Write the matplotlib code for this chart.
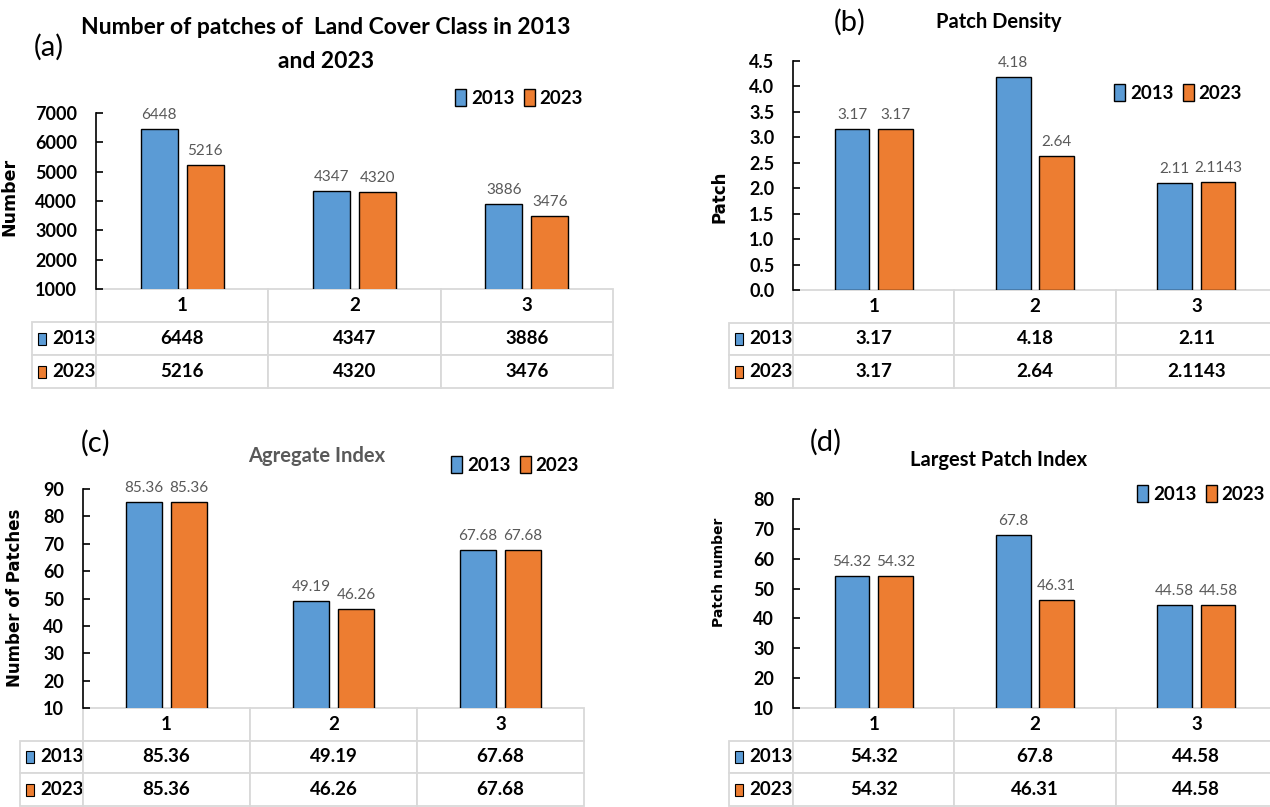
import numpy as np
import matplotlib
matplotlib.use('Agg')
import matplotlib.pyplot as plt
from matplotlib import font_manager
from matplotlib.patches import Patch, Rectangle
from matplotlib.ticker import FormatStrFormatter

years = ['2013', '2023']
classes = ['1', '2', '3']

patches_2013 = [6448, 4347, 3886]
patches_2023 = [5216, 4320, 3476]
density_2013 = [3.17, 4.18, 2.11]
density_2023 = [3.17, 2.64, 2.1143]
aggregate_2013 = [85.36, 49.19, 67.68]
aggregate_2023 = [85.36, 46.26, 67.68]
lpi_2013 = [54.32, 67.8, 44.58]
lpi_2023 = [54.32, 46.31, 44.58]

BLUE = '#5B9BD5'
ORANGE = '#ED7D31'
GRID = '#d9d9d9'
W, H = 1270, 807

names = {f.name for f in font_manager.fontManager.ttflist}
NARROW = 'Liberation Sans Narrow' if 'Liberation Sans Narrow' in names else 'Lato'
plt.rcParams['font.family'] = [NARROW, 'DejaVu Sans']

fig = plt.figure(figsize=(W / 100, H / 100), dpi=100)


def px_axes(left, right, top, bottom):
	return fig.add_axes([left / W, 1 - bottom / H, (right - left) / W, (bottom - top) / H])


def draw_table(ax, left, right, top, bottom, lab_left, tab_bottom, v13, v23):
	aw = right - left
	ah = bottom - top
	th = tab_bottom - bottom
	cells = [[''] + classes,
		[years[0]] + ['{:g}'.format(v) for v in v13],
		[years[1]] + ['{:g}'.format(v) for v in v23]]
	lw = left - lab_left
	tab = ax.table(cellText=cells, colWidths=[lw, aw / 3, aw / 3, aw / 3],
		bbox=[-lw / aw, -th / ah, 1 + lw / aw, th / ah], cellLoc='center')
	tab.auto_set_font_size(False)
	tab.set_fontsize(13.5)
	for (r, c), cell in tab.get_celld().items():
		cell.set_edgecolor(GRID)
		cell.set_linewidth(1.3)
		cell.get_text().set_fontweight('bold')
		if r == 0 and c == 0:
			cell.visible_edges = ''
		if c == 0 and r > 0:
			cell.get_text().set_ha('left')
			cell._loc = 'left'
			cell.PAD = 20 / lw
	# legend keys in the row label cells
	for i, col in enumerate([BLUE, ORANGE]):
		yc = bottom + th / 3 * (i + 1.5)
		ax.add_patch(Rectangle(((lab_left + 6 - left) / aw, (bottom - yc - 6) / ah), 8 / aw, 12 / ah,
			transform=ax.transAxes, facecolor=col, edgecolor='black', lw=0.8, clip_on=False))


def panel(box, lab_left, tab_bottom, v13, v23, yticks, fmt, ylabel, ylab_xy, ylab_size, leg_xy):
	left, right, top, bottom = box
	ax = px_axes(left, right, top, bottom)
	x = np.arange(len(classes))
	b1 = ax.bar(x - 0.134, v13, 0.215, color=BLUE, edgecolor='black', linewidth=1, label=years[0])
	b2 = ax.bar(x + 0.134, v23, 0.215, color=ORANGE, edgecolor='black', linewidth=1, label=years[1])
	for b in (b1, b2):
		ax.bar_label(b, fmt='{:g}', padding=5, fontsize=11, color='#595959')
	ax.set_xlim(-0.5, len(classes) - 0.5)
	ax.set_ylim(yticks[0], yticks[-1])
	ax.set_yticks(yticks)
	ax.yaxis.set_major_formatter(FormatStrFormatter(fmt))
	ax.set_xticks([])
	for s in ['top', 'right', 'bottom']:
		ax.spines[s].set_visible(False)
	ax.spines['left'].set_linewidth(1.2)
	ax.tick_params(axis='y', direction='in', length=5, width=1.2, pad=13.5, labelsize=13)
	plt.setp(ax.get_yticklabels(), fontweight='bold')
	ax.set_ylabel(ylabel, family='DejaVu Sans', fontweight='bold', fontsize=ylab_size)
	ax.yaxis.set_label_coords((ylab_xy[0] - left) / (right - left), (bottom - ylab_xy[1]) / (bottom - top))
	ax.set_facecolor('none')
	draw_table(ax, left, right, top, bottom, lab_left, tab_bottom, v13, v23)
	handles = [Patch(facecolor=BLUE, edgecolor='black'), Patch(facecolor=ORANGE, edgecolor='black')]
	ax.legend(handles, years, ncol=2, loc='center', bbox_to_anchor=(leg_xy[0] / W, 1 - leg_xy[1] / H),
		bbox_transform=fig.transFigure, frameon=False, prop={'weight': 'bold', 'size': 13.5},
		handlelength=0.6, handleheight=1.0, handletextpad=0.25, columnspacing=0.5, borderpad=0)
	return ax


panel((96, 613, 113, 289), 32, 388, patches_2013, patches_2023, np.arange(1000, 7001, 1000), '%d',
	'Number', (18, 197), 12.5, (519, 98))
panel((793, 1277, 61, 290), 729, 388, density_2013, density_2023, np.arange(0, 4.51, 0.5), '%.1f',
	'Patch', (729, 197), 12, (1178, 93))
panel((83, 584, 489, 708), 20, 806, aggregate_2013, aggregate_2023, np.arange(10, 91, 10), '%d',
	'Number of Patches', (24, 598), 12, (515, 465))
panel((793, 1277, 499, 708), 729, 806, lpi_2013, lpi_2023, np.arange(10, 81, 10), '%d',
	'Patch number', (726, 572), 10, (1201, 494))

# titles and panel letters
fig.text(326 / W, 1 - 27 / H, 'Number of patches of  Land Cover Class in 2013', ha='center', va='center',
	fontsize=16.5, fontweight='bold')
fig.text(326 / W, 1 - 62 / H, 'and 2023', ha='center', va='center', fontsize=16.5, fontweight='bold')
fig.text(49 / W, 1 - 47 / H, '(a)', ha='center', va='center', fontsize=21)
fig.text(850 / W, 1 - 22 / H, '(b)', ha='center', va='center', fontsize=21)
fig.text(999 / W, 1 - 22 / H, 'Patch Density', ha='center', va='center', fontsize=14.5, fontweight='bold')
fig.text(96 / W, 1 - 443 / H, '(c)', ha='center', va='center', fontsize=21)
fig.text(317 / W, 1 - 456 / H, 'Agregate Index', ha='center', va='center', fontsize=14.5, fontweight='bold',
	color='#595959')
fig.text(826 / W, 1 - 442 / H, '(d)', ha='center', va='center', fontsize=21)
fig.text(999 / W, 1 - 460 / H, 'Largest Patch Index', ha='center', va='center', fontsize=14.5, fontweight='bold')

plt.savefig('out.png', dpi=100)
